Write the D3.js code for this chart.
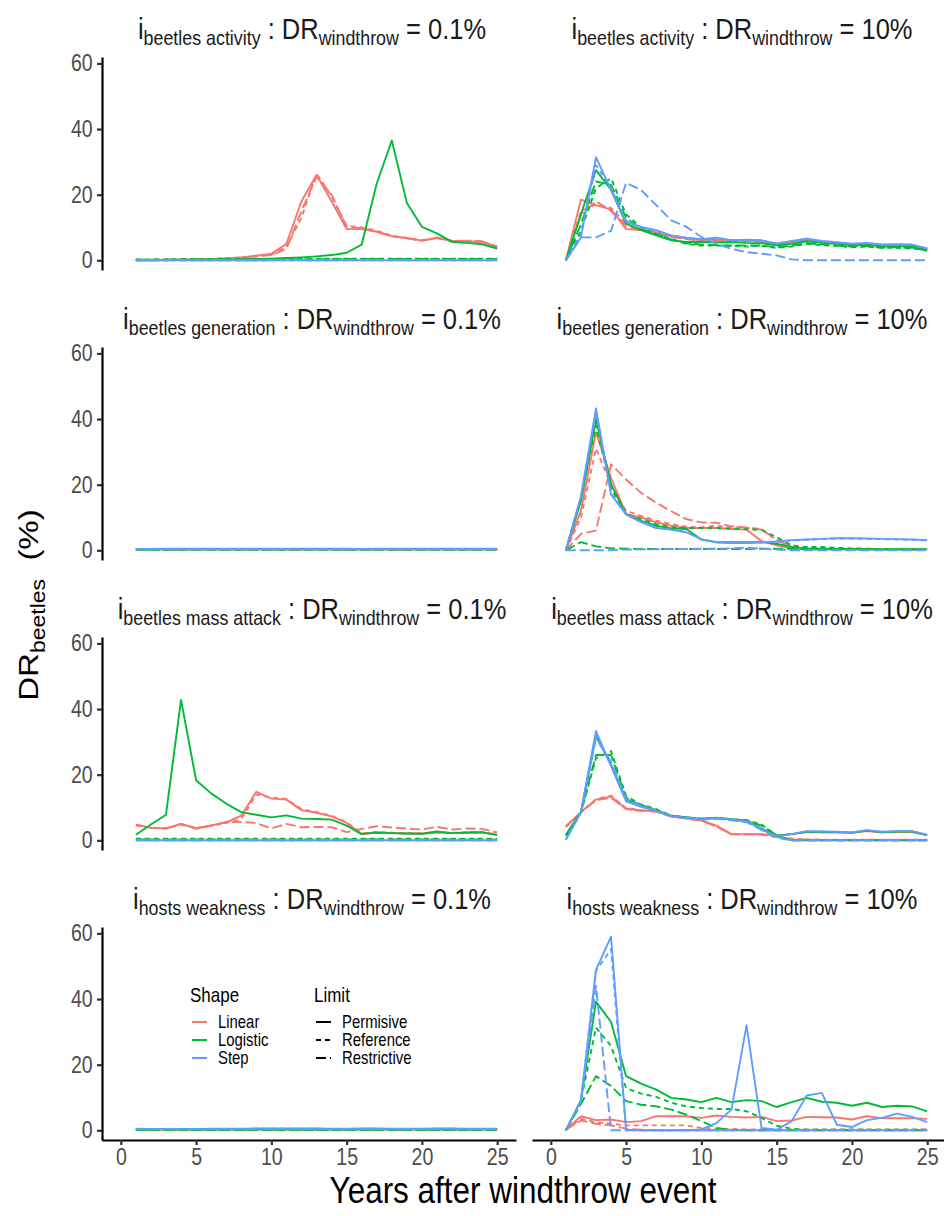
<!DOCTYPE html>
<html>
<head>
<meta charset="utf-8">
<script src="https://cdn.jsdelivr.net/npm/d3@7/dist/d3.min.js"></script>
<style>
  body { margin: 0; background: #fff; }
  text { font-family: "Liberation Sans", Arial, sans-serif; white-space: pre; }
</style>
</head>
<body>
<svg id="chart" width="944" height="1216"></svg>
<script>
// ---- data ----
const years = [1,2,3,4,5,6,7,8,9,10,11,12,13,14,15,16,17,18,19,20,21,22,23,24,25];
const xTicks = [0,5,10,15,20,25];
const yTicks = [0,20,40,60];
const shapes = ["Linear","Logistic","Step"];
const limits = ["Permisive","Reference","Restrictive"];
const drivers = ["beetles activity","beetles generation","beetles mass attack","hosts weakness"];
const windthrow = ["0.1%","10%"];

// i beetles activity : DR windthrow = 0.1%
const actLo_LinPer = [0.1,0.1,0.2,0.2,0.3,0.4,0.6,0.9,1.4,2,5,18,26,18,9.5,9.5,8.7,7.3,6.8,6,6.8,5.9,5.8,5.6,4];
const actLo_LinRef = [0.1,0.1,0.2,0.2,0.3,0.4,0.6,0.9,1.2,1.8,4,13,26.5,19.5,10.5,10,9,7.5,6.8,6.2,6.8,6,5.9,5.7,4.2];
const actLo_LinRes = [0.1,0.1,0.2,0.2,0.3,0.4,0.5,0.8,1.2,1.6,3.5,15,25.5,20,10.2,9.8,8.8,7.4,6.7,6,6.9,5.8,6,5.8,4.1];
const actLo_LogPer = [0,0,0.1,0.1,0.1,0.2,0.2,0.3,0.4,0.5,0.7,0.9,1.2,1.6,2.3,4.8,23.4,36.5,17.5,10.2,8.2,5.6,5.3,4.9,3.6];
const actLo_LogRef = [0.3,0.3,0.3,0.4,0.4,0.4,0.4,0.4,0.4,0.4,0.4,0.5,0.5,0.5,0.5,0.5,0.5,0.5,0.5,0.5,0.5,0.5,0.5,0.5,0.5];
const actLo_LogRes = [0.2,0.2,0.2,0.2,0.3,0.3,0.3,0.3,0.3,0.3,0.3,0.3,0.3,0.4,0.4,0.4,0.4,0.4,0.4,0.4,0.4,0.4,0.4,0.4,0.4];
const actLo_StpPer = [0,0,0,0,0,0,0,0,0,0,0,0,0,0,0,0,0,0,0,0,0,0,0,0,0];
const actLo_StpRef = [0,0,0,0,0,0,0,0,0,0,0,0,0,0,0,0,0,0,0,0,0,0,0,0,0];
const actLo_StpRes = [0,0,0,0,0,0,0,0,0,0.1,0.1,0.1,0.1,0.1,0.1,0.1,0.1,0.1,0.1,0.1,0.1,0.1,0.1,0.1,0.1];

// i beetles activity : DR windthrow = 10%
const actHi_LinPer = [0,18.5,16.8,15.5,9.5,9.2,8.5,7.3,6.6,6.1,6.3,6.2,6,5.8,5,5.5,6.2,5.6,5.2,4.8,5,4.6,4.6,4.5,3.5];
const actHi_LinRef = [0,15,17,16,11,9.5,8.5,7.5,6.8,6.3,6.3,6.1,6,5.9,5.2,5.6,6.2,5.7,5.3,4.9,5,4.7,4.7,4.6,3.6];
const actHi_LinRes = [0,14,18,15,10.5,9,8.2,7.1,6.5,6,6.2,6,5.9,5.7,5,5.4,6,5.5,5.1,4.7,4.9,4.5,4.5,4.4,3.4];
const actHi_LogPer = [0,14,27.5,21.5,11.2,9.2,7.6,6.1,5.6,5.6,5.5,5.6,5.3,5.2,4.6,5,5.8,5.3,5,4.6,4.7,4.3,4.3,4.2,3.2];
const actHi_LogRef = [0,9,22,25,14,10,8,6.5,5,4.5,4.5,4.4,4.2,4.4,3.8,4.2,5,4.6,4.4,4,4.2,3.8,3.8,3.6,3];
const actHi_LogRes = [0,11,24,23,13,9.5,8,6.4,5.2,4.8,4.6,4.5,4.5,4.5,4,4.5,5.2,4.8,4.5,4.2,4.3,3.9,4,3.8,3];
const actHi_StpPer = [0,7,31.4,21.4,11.7,10.2,9.2,7.6,6.9,6.4,6.9,6.1,6.3,6.1,5.1,5.9,6.6,5.9,5.5,5.1,5.3,4.8,4.9,4.8,3.6];
const actHi_StpRef = [0,8,29,22,12,10,9,7.5,6.8,6.3,6.7,6,6.2,6,5,5.8,6.5,5.8,5.4,5,5.2,4.7,4.8,4.7,3.5];
const actHi_StpRes = [0,7,7,9,23.6,21.4,16.8,12.2,10.2,7.1,5,3.5,2.5,2,1.5,0.3,0,0,0,0,0,0,0,0,0];

// i beetles generation : DR windthrow = 0.1%
const genLo_LinPer = [0.2,0.3,0.3,0.3,0.3,0.3,0.3,0.3,0.3,0.3,0.3,0.3,0.3,0.3,0.3,0.3,0.3,0.3,0.3,0.3,0.3,0.3,0.3,0.3,0.3];
const genLo_LinRef = [0.2,0.2,0.2,0.3,0.3,0.3,0.3,0.3,0.3,0.3,0.3,0.3,0.3,0.3,0.2,0.3,0.3,0.3,0.3,0.3,0.3,0.3,0.3,0.3,0.3];
const genLo_LinRes = [0.2,0.2,0.2,0.2,0.2,0.2,0.2,0.2,0.2,0.2,0.2,0.2,0.2,0.2,0.2,0.2,0.2,0.2,0.2,0.2,0.2,0.2,0.2,0.2,0.2];
const genLo_LogPer = [0.3,0.3,0.3,0.3,0.3,0.3,0.3,0.3,0.3,0.3,0.3,0.3,0.3,0.3,0.3,0.3,0.3,0.3,0.3,0.3,0.3,0.3,0.3,0.3,0.3];
const genLo_LogRef = [0.2,0.2,0.2,0.2,0.3,0.3,0.3,0.3,0.3,0.3,0.3,0.3,0.3,0.3,0.3,0.3,0.3,0.3,0.3,0.3,0.3,0.3,0.3,0.3,0.3];
const genLo_LogRes = [0.2,0.2,0.2,0.2,0.2,0.2,0.2,0.2,0.2,0.2,0.2,0.2,0.2,0.2,0.2,0.2,0.2,0.2,0.2,0.2,0.2,0.2,0.2,0.2,0.2];
const genLo_StpPer = [0.4,0.4,0.5,0.5,0.5,0.5,0.5,0.5,0.5,0.5,0.5,0.5,0.5,0.5,0.5,0.4,0.5,0.5,0.5,0.5,0.5,0.5,0.5,0.5,0.5];
const genLo_StpRef = [0.4,0.3,0.3,0.4,0.4,0.4,0.4,0.4,0.4,0.4,0.4,0.4,0.4,0.4,0.3,0.4,0.4,0.4,0.4,0.4,0.4,0.4,0.4,0.4,0.4];
const genLo_StpRes = [0.3,0.3,0.3,0.3,0.3,0.3,0.3,0.3,0.3,0.3,0.3,0.3,0.3,0.3,0.3,0.3,0.3,0.3,0.3,0.3,0.3,0.3,0.3,0.3,0.3];

// i beetles generation : DR windthrow = 10%
const genHi_LinPer = [0,12,36,22,11,10,8.5,7.5,6.8,6.8,6.8,6.5,6.3,2.8,1.5,0.5,0.3,0.3,0.3,0.3,0.3,0.3,0.3,0.3,0.3];
const genHi_LinRef = [0,10,31,20,12,10.5,9,8,7.2,7,7.5,7,6.8,6.5,3,1.5,0.8,0.5,0.4,0.3,0.3,0.3,0.3,0.3,0.3];
const genHi_LinRes = [0,5,6,26.2,21.6,17.5,14.5,11.9,9.5,8.5,8.4,7.3,7,6.3,3.3,1,0.6,0.4,0.3,0.3,0.3,0.3,0.3,0.3,0.3];
const genHi_LogPer = [0,15,40,20,11,9,7.5,6.7,6.5,3.3,2.5,2.5,2.5,2.5,2,1,0.5,0.5,0.4,0.4,0.4,0.3,0.3,0.3,0.3];
const genHi_LogRef = [0,16,38,19,11,9.5,8,7,6.8,6.8,6.8,6.6,6.4,6.2,4,1.5,1,1,0.8,0.6,0.5,0.4,0.4,0.3,0.3];
const genHi_LogRes = [0,2.5,1.2,0.6,0.5,0.4,0.4,0.4,0.4,0.4,0.4,0.4,0.4,0.5,0.5,0.4,0.3,0.3,0.3,0.3,0.3,0.3,0.3,0.3,0.3];
const genHi_StpPer = [0,16.5,43.2,17,10.9,8.6,6.8,6.3,5.5,3.3,2.4,2.2,2.2,2.4,2.7,3.1,3.3,3.5,3.7,3.7,3.6,3.5,3.4,3.3,3.1];
const genHi_StpRef = [0,16,42,17.5,11,8.7,6.9,6.3,5.6,3.4,2.5,2.3,2.3,2.4,2.7,3,3.2,3.4,3.6,3.6,3.5,3.4,3.3,3.2,3];
const genHi_StpRes = [0,0,0,0,0.2,0.3,0.3,0.4,0.4,0.5,0.5,0.6,0.8,0.5,0.2,0,0,0,0,0,0,0,0,0,0];

// i beetles mass attack : DR windthrow = 0.1%
const masLo_LinPer = [4.8,3.8,3.6,5,3.6,4.5,5.5,7.5,14.8,12.7,12.4,9.2,8.4,7.3,5.3,2,2.4,2.2,2.1,2,2.4,2.2,2.3,2.4,1.7];
const masLo_LinRef = [4.5,3.9,3.7,4.8,3.8,4.4,5.3,6.5,14,13,12.6,9.5,8.6,7.5,5.5,2.1,2.5,2.3,2.2,2.1,2.5,2.3,2.4,2.5,1.8];
const masLo_LinRes = [4.8,3.8,3.6,5,3.6,4.5,5.5,5.6,5.3,3.6,5,4,4.1,4,2.5,3.5,4.3,3.9,3.6,3.3,4.1,3.3,3.6,3.5,2.4];
const masLo_LogPer = [1.7,4.8,7.8,42.8,18.3,14.3,11.2,8.6,7.8,7,7.6,6.6,6.5,6.3,4.5,1.9,2.4,2.2,2.1,2,2.7,2.2,2.4,2.5,1.6];
const masLo_LogRef = [0.5,0.5,0.5,0.5,0.5,0.5,0.5,0.5,0.5,0.5,0.5,0.5,0.5,0.5,0.5,0.5,0.5,0.5,0.5,0.5,0.5,0.5,0.5,0.5,0.5];
const masLo_LogRes = [0.3,0.3,0.3,0.3,0.3,0.3,0.3,0.3,0.3,0.3,0.3,0.3,0.3,0.3,0.3,0.3,0.3,0.3,0.3,0.3,0.3,0.3,0.3,0.3,0.3];
const masLo_StpPer = [0,0,0,0,0,0,0,0,0,0,0,0,0,0,0,0,0,0,0,0,0,0,0,0,0];
const masLo_StpRef = [0,0,0,0,0,0,0,0,0,0,0,0,0,0,0,0,0,0,0,0,0,0,0,0,0];
const masLo_StpRes = [0,0,0,0,0,0,0,0,0,0,0,0,0,0,0,0,0,0,0,0,0,0,0,0,0];

// i beetles mass attack : DR windthrow = 10%
const masHi_LinPer = [4.3,8.6,12.4,13.3,9.6,9.1,8.9,7.3,6.7,6.1,4.5,1.9,1.9,1.9,1.4,1.9,2.5,2.4,2.4,2.3,2.8,2.4,2.5,2.5,1.6];
const masHi_LinRef = [4,8.5,12.6,13.6,9.8,9.2,8.8,7.4,6.8,6,4.2,1.8,1.8,1.8,1.2,0.5,0.3,0.2,0.2,0.2,0.2,0.2,0.2,0.2,0.2];
const masHi_LinRes = [4.2,8.5,12.2,13,9.5,9,8.7,7.2,6.6,6,4.3,1.8,1.8,1.7,1,0.3,0.2,0.1,0.1,0.1,0.1,0.1,0.1,0.1,0.1];
const masHi_LogPer = [1.7,8.6,31.8,23,12.5,10.8,9.2,7.5,7,6.6,6.9,6.4,6,3.6,1.5,1.9,2.6,2.6,2.5,2.3,3,2.5,2.7,2.7,1.6];
const masHi_LogRef = [1.5,8.5,25,27.2,13.5,10.9,9.5,7.5,7,6.6,6.8,6.4,6.2,4.8,1.4,0,0,0,0,0,0,0,0,0,0];
const masHi_LogRes = [1.5,8.5,26,26,13,10.5,9.2,7.5,7,6.5,6.8,6.3,6,4.5,1.5,0,0,0,0,0,0,0,0,0,0];
const masHi_StpPer = [0.2,8.6,33.3,22.6,11.9,10.2,8.9,7.3,6.8,6.3,6.8,6.3,5.8,3.3,1.2,1.9,2.8,2.7,2.6,2.4,3.1,2.6,2.8,2.8,1.7];
const masHi_StpRef = [0.2,8.5,32,23,12.2,10.4,9,7.4,6.9,6.4,6.7,6.2,5.7,3.5,1,0,0,0,0,0,0,0,0,0,0];
const masHi_StpRes = [0.2,8.5,31,24,12.5,10.6,9.1,7.4,6.8,6.3,6.6,6.1,5.5,3.2,0.8,0,0,0,0,0,0,0,0,0,0];

// i hosts weakness : DR windthrow = 0.1%
const hosLo_LinPer = [0.2,0.2,0.2,0.2,0.2,0.2,0.3,0.3,0.3,0.3,0.3,0.3,0.3,0.3,0.3,0.3,0.3,0.3,0.3,0.3,0.3,0.3,0.3,0.3,0.3];
const hosLo_LinRef = [0.2,0.2,0.2,0.2,0.2,0.2,0.2,0.2,0.2,0.2,0.2,0.2,0.2,0.2,0.2,0.2,0.2,0.2,0.2,0.2,0.2,0.2,0.2,0.2,0.2];
const hosLo_LinRes = [0.1,0.1,0.1,0.1,0.1,0.1,0.1,0.1,0.1,0.1,0.1,0.1,0.1,0.1,0.1,0.1,0.1,0.1,0.1,0.1,0.1,0.1,0.1,0.1,0.1];
const hosLo_LogPer = [0.3,0.3,0.3,0.3,0.3,0.3,0.3,0.3,0.3,0.3,0.3,0.3,0.3,0.3,0.3,0.3,0.3,0.3,0.3,0.3,0.3,0.3,0.3,0.3,0.3];
const hosLo_LogRef = [0.2,0.2,0.2,0.2,0.2,0.2,0.2,0.2,0.2,0.2,0.2,0.2,0.2,0.2,0.2,0.2,0.2,0.2,0.2,0.2,0.2,0.2,0.2,0.2,0.2];
const hosLo_LogRes = [0.1,0.1,0.1,0.1,0.1,0.1,0.1,0.1,0.1,0.1,0.1,0.1,0.1,0.1,0.1,0.1,0.1,0.1,0.1,0.1,0.1,0.1,0.1,0.1,0.1];
const hosLo_StpPer = [0.5,0.4,0.4,0.4,0.4,0.5,0.5,0.5,0.6,0.6,0.6,0.6,0.6,0.5,0.5,0.6,0.6,0.5,0.5,0.5,0.6,0.6,0.5,0.5,0.5];
const hosLo_StpRef = [0.4,0.4,0.4,0.4,0.4,0.4,0.4,0.4,0.5,0.5,0.5,0.5,0.5,0.4,0.4,0.5,0.5,0.4,0.4,0.4,0.5,0.5,0.4,0.4,0.4];
const hosLo_StpRes = [0.3,0.3,0.3,0.3,0.3,0.3,0.3,0.3,0.3,0.3,0.3,0.3,0.3,0.3,0.3,0.3,0.3,0.3,0.3,0.3,0.3,0.3,0.3,0.3,0.3];

// i hosts weakness : DR windthrow = 10%
const hosHi_LinPer = [0.2,4.3,3.1,3.3,2.5,2.8,4.3,4.3,4.3,3.8,4.5,4.1,3.9,4.1,2.8,3,4.1,4,3.9,3.3,4.3,3.7,3.7,3.7,3.5];
const hosHi_LinRef = [0.2,3.5,2.5,2,1.5,1.5,1.5,1.5,1.5,0.7,0.5,0.4,0.3,0.3,0.3,0.3,0.3,0.3,0.3,0.3,0.3,0.3,0.3,0.3,0.3];
const hosHi_LinRes = [0.2,3,2,1.5,0.5,0.2,0,0,0,0,0,0,0,0,0,0,0,0,0,0,0,0,0,0,0];
const hosHi_LogPer = [0,9.2,39.2,33,16.5,14.2,12.4,9.9,9.4,8.6,9.9,8.6,9.2,8.9,7.1,8.6,9.9,8.7,8.4,7.5,8.4,7.1,7.5,7.3,5.8];
const hosHi_LogRef = [0,9,31.3,25.7,12.9,11.2,10.2,8.4,7.3,6.8,6.5,6.5,5.8,3.8,1.4,0.5,0.2,0.2,0.2,0.2,0.2,0.2,0.2,0.2,0.2];
const hosHi_LogRes = [0,8,16.5,13.5,8.9,7.8,7.3,6.3,4.8,2.8,0.7,0.2,0,0,0,0,0,0,0,0,0,0,0,0,0];
const hosHi_StpPer = [0,8.9,48.9,59,0.2,0,0,0,0,0.3,2.2,6.3,32,0.7,0.2,2.8,10.6,11.4,1.7,1,3.1,3.8,5.1,4.1,2.5];
const hosHi_StpRef = [0,8.9,48.6,55.2,0,0,0,0,0,0,0,0,0,0,0,0,0,0,0,0,0,0,0,0,0];
const hosHi_StpRes = [0,8.9,44,0,0,0,0,0,0,0,0,0,0,0,0,0,0,0,0,0,0,0,0,0,0];

// ---- panel table built from the arrays above ----
const panels = [
  {row:0, col:0, series:[actLo_LinPer,actLo_LinRef,actLo_LinRes,actLo_LogPer,actLo_LogRef,actLo_LogRes,actLo_StpPer,actLo_StpRef,actLo_StpRes]},
  {row:0, col:1, series:[actHi_LinPer,actHi_LinRef,actHi_LinRes,actHi_LogPer,actHi_LogRef,actHi_LogRes,actHi_StpPer,actHi_StpRef,actHi_StpRes]},
  {row:1, col:0, series:[genLo_LinPer,genLo_LinRef,genLo_LinRes,genLo_LogPer,genLo_LogRef,genLo_LogRes,genLo_StpPer,genLo_StpRef,genLo_StpRes]},
  {row:1, col:1, series:[genHi_LinPer,genHi_LinRef,genHi_LinRes,genHi_LogPer,genHi_LogRef,genHi_LogRes,genHi_StpPer,genHi_StpRef,genHi_StpRes]},
  {row:2, col:0, series:[masLo_LinPer,masLo_LinRef,masLo_LinRes,masLo_LogPer,masLo_LogRef,masLo_LogRes,masLo_StpPer,masLo_StpRef,masLo_StpRes]},
  {row:2, col:1, series:[masHi_LinPer,masHi_LinRef,masHi_LinRes,masHi_LogPer,masHi_LogRef,masHi_LogRes,masHi_StpPer,masHi_StpRef,masHi_StpRes]},
  {row:3, col:0, series:[hosLo_LinPer,hosLo_LinRef,hosLo_LinRes,hosLo_LogPer,hosLo_LogRef,hosLo_LogRes,hosLo_StpPer,hosLo_StpRef,hosLo_StpRes]},
  {row:3, col:1, series:[hosHi_LinPer,hosHi_LinRef,hosHi_LinRes,hosHi_LogPer,hosHi_LogRef,hosHi_LogRes,hosHi_StpPer,hosHi_StpRef,hosHi_StpRes]}
];

// ---- layout ----
const colLeft = [102, 532], panelW = 414;
const rowTop = [57, 347, 637, 927], panelH = 213;
const SQ = 0.85; // the figure's text is horizontally condensed

const color = d3.scaleOrdinal().domain(shapes).range(["#F8766D", "#00BA38", "#619CFF"]);
const dash = d3.scaleOrdinal().domain(limits).range(["none", "5,4", "10,4"]);

const svg = d3.select("#chart");
svg.append("rect").attr("width", 944).attr("height", 1216).attr("fill", "#fff");

function placed(parent, x, y) {
  return parent.append("text").attr("transform", `translate(${x},${y}) scale(${SQ},1)`);
}

panels.forEach(p => {
  const x = d3.scaleLinear().domain([-1.25, 26.25]).range([colLeft[p.col], colLeft[p.col] + panelW]);
  const y = d3.scaleLinear().domain([-2.95, 61.95]).range([rowTop[p.row] + panelH, rowTop[p.row]]);
  const g = svg.append("g");

  const line = d3.line().x((d, i) => x(years[i])).y(d => y(d));
  p.series.forEach((vals, k) => {
    const shape = shapes[Math.floor(k / 3)], limit = limits[k % 3];
    g.append("path")
      .datum(vals)
      .attr("d", line)
      .attr("fill", "none")
      .attr("stroke", color(shape))
      .attr("stroke-width", 1.9)
      .attr("stroke-dasharray", dash(limit))
      .attr("stroke-linejoin", "round");
  });

  // y axis only on left column
  if (p.col === 0) {
    const ya = g.append("g")
      .attr("transform", `translate(${colLeft[0]},0)`)
      .call(d3.axisLeft(y).tickValues(yTicks).tickSize(5).tickSizeOuter(0).tickPadding(6));
    ya.select(".domain").attr("stroke", "#000").attr("stroke-width", 2.2);
    ya.selectAll(".tick line").attr("stroke", "#333").attr("stroke-width", 2.2);
    ya.selectAll(".tick text").attr("fill", "#4D4D4D").attr("font-size", 23).attr("font-family", null)
      .attr("transform", `scale(${SQ},1)`);
  }
  // x axis only on bottom row
  if (p.row === 3) {
    const xa = g.append("g")
      .attr("transform", `translate(0,${rowTop[3] + panelH})`)
      .call(d3.axisBottom(x).tickValues(xTicks).tickSize(5).tickSizeOuter(0).tickPadding(4));
    xa.select(".domain").attr("stroke", "#000").attr("stroke-width", 2.2);
    xa.selectAll(".tick line").attr("stroke", "#333").attr("stroke-width", 2.2);
    xa.selectAll(".tick text").attr("fill", "#4D4D4D").attr("font-size", 23).attr("font-family", null)
      .attr("transform", `scale(${SQ},1)`);
  }

  // strip label
  const st = placed(svg, colLeft[p.col] + panelW / 2 + 3, rowTop[p.row] - 18)
    .attr("text-anchor", "middle")
    .attr("font-size", 30)
    .attr("fill", "#1A1A1A");
  st.append("tspan").text("i");
  st.append("tspan").attr("font-size", 21).attr("dy", 6).text(drivers[p.row]);
  st.append("tspan").attr("dy", -6).text(" : DR");
  st.append("tspan").attr("font-size", 21).attr("dy", 6).text("windthrow");
  st.append("tspan").attr("dy", -6).text(" = " + windthrow[p.col]);
});

// axis titles
placed(svg, 523, 1203)
  .attr("text-anchor", "middle")
  .attr("font-size", 37)
  .text("Years after windthrow event");

const yt = svg.append("text")
  .attr("transform", `translate(38,605) scale(${SQ},1) rotate(-90)`)
  .attr("text-anchor", "middle")
  .attr("font-size", 33);
yt.append("tspan").text("DR");
yt.append("tspan").attr("font-size", 23).attr("dy", 8).text("beetles");
yt.append("tspan").attr("dy", -8).text("  (%)");

// legend
const leg = svg.append("g");
placed(leg, 190, 1002).attr("font-size", 20).text("Shape");
placed(leg, 314, 1002).attr("font-size", 20).text("Limit");
const legY = [1022, 1040, 1058];
shapes.forEach((s, i) => {
  leg.append("line").attr("x1", 192).attr("x2", 207).attr("y1", legY[i]).attr("y2", legY[i])
    .attr("stroke", color(s)).attr("stroke-width", 2);
  placed(leg, 218, legY[i] + 6).attr("font-size", 17.5).text(s);
});
limits.forEach((l, i) => {
  leg.append("line").attr("x1", 316).attr("x2", 331).attr("y1", legY[i]).attr("y2", legY[i])
    .attr("stroke", "#000").attr("stroke-width", 2).attr("stroke-dasharray", dash(l));
  placed(leg, 342, legY[i] + 6).attr("font-size", 17.5).text(l);
});
</script>
</body>
</html>
